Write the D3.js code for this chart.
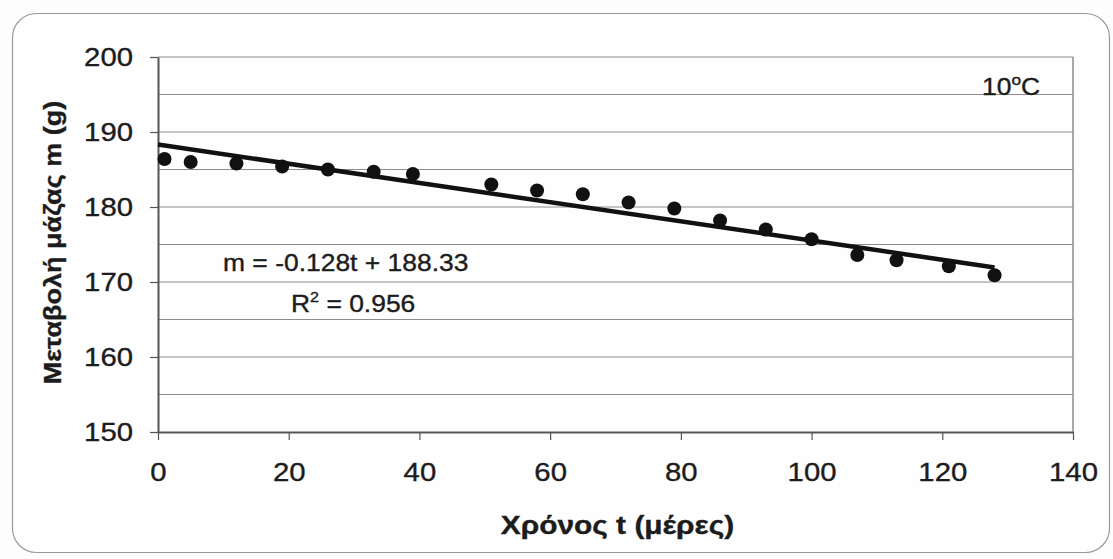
<!DOCTYPE html>
<html>
<head>
<meta charset="utf-8">
<script src="https://cdn.jsdelivr.net/npm/d3@7"></script>
<style>
  body { margin: 0; background: #fdfdfd; }
  text { font-family: "Liberation Sans", Arial, sans-serif; fill: #1c1c1c; stroke: #1c1c1c; stroke-width: 0.35px; }
</style>
</head>
<body>
<div id="svgzone"></div>
<script>
// data
let days = [1, 5, 12, 19, 26, 33, 39, 51, 58, 65, 72, 79, 86, 93, 100, 107, 113, 121, 128];
let mass = [186.4, 186.0, 185.8, 185.4, 185.0, 184.7, 184.4, 183.0, 182.2, 181.7, 180.6, 179.8, 178.2, 177.0, 175.7, 173.6, 172.9, 172.1, 170.9];
let xTicks = [0, 20, 40, 60, 80, 100, 120, 140];
let yTicks = [150, 160, 170, 180, 190, 200];
let gridValues = [155, 160, 165, 170, 175, 180, 185, 190, 195, 200];
let slope = -0.128, intercept = 188.33, rSquared = 0.956;
let fitRange = [0, 128];

let W = 1113, H = 559;
let margin = { top: 57, right: 40, bottom: 127, left: 158 },
    width = W - margin.left - margin.right,
    height = H - margin.top - margin.bottom;
let sx = 1.15; // the picture is a bit wider than tall

let root = d3.select("#svgzone")
    .append("svg")
    .attr("width", W)
    .attr("height", H);

// outer rounded frame
root.append("rect")
    .attr("x", 12.5).attr("y", 13.5)
    .attr("width", 1097).attr("height", 539)
    .attr("rx", 24)
    .attr("fill", "#fefefe")
    .attr("stroke", "#9a9a9a")
    .attr("stroke-width", 1.2);

let svg = root.append("g")
    .attr("transform", "translate(" + margin.left + "," + margin.top + ")");

let x = d3.scaleLinear().domain([0, 140]).range([0, width]);
let y = d3.scaleLinear().domain([150, 200]).range([height, 0]);

// horizontal grid lines
svg.append("g")
    .selectAll("line")
    .data(gridValues)
    .enter()
    .append("line")
    .attr("x1", 0).attr("x2", width)
    .attr("y1", d => y(d)).attr("y2", d => y(d))
    .attr("stroke", "#8c8c8c")
    .attr("stroke-width", 1.2);

// right border of plot
svg.append("line")
    .attr("x1", width).attr("x2", width)
    .attr("y1", 0).attr("y2", height)
    .attr("stroke", "#8c8c8c")
    .attr("stroke-width", 1.5);

// axes
let xAxis = svg.append("g")
    .attr("transform", "translate(0," + height + ")")
    .call(d3.axisBottom(x).tickValues(xTicks).tickSize(8).tickPadding(23).tickSizeOuter(0));
xAxis.select(".domain").attr("stroke", "#555").attr("stroke-width", 2);
xAxis.selectAll(".tick line").attr("stroke", "#555").attr("stroke-width", 1.2);
xAxis.selectAll(".tick text")
    .attr("font-size", 25.5)
    .attr("font-family", "Liberation Sans, Arial, sans-serif")
    .attr("fill", "#1c1c1c")
    .attr("transform", "scale(" + sx + ",1)");

let yAxis = svg.append("g")
    .call(d3.axisLeft(y).tickValues(yTicks).tickSize(8).tickPadding(17).tickSizeOuter(0));
yAxis.select(".domain").attr("stroke", "#555").attr("stroke-width", 2);
yAxis.selectAll(".tick line").attr("stroke", "#555").attr("stroke-width", 1.2);
yAxis.selectAll(".tick text")
    .attr("font-size", 25.5)
    .attr("font-family", "Liberation Sans, Arial, sans-serif")
    .attr("fill", "#1c1c1c")
    .attr("transform", "scale(" + sx + ",1)")
    .attr("x", -25 / sx);

// trend line
svg.append("line")
    .attr("x1", x(fitRange[0])).attr("y1", y(slope * fitRange[0] + intercept))
    .attr("x2", x(fitRange[1])).attr("y2", y(slope * fitRange[1] + intercept))
    .attr("stroke", "#111")
    .attr("stroke-width", 4.5);

// points
svg.append("g")
    .selectAll("circle")
    .data(days)
    .enter()
    .append("circle")
    .attr("cx", (d, i) => x(d))
    .attr("cy", (d, i) => y(mass[i]))
    .attr("r", 7)
    .attr("fill", "#111");

// equation
let eq = root.append("text")
    .attr("transform", "translate(223,271) scale(" + sx + ",1)")
    .attr("font-size", 23)
    .text("m = " + slope + "t + " + intercept);

let r2 = root.append("text")
    .attr("transform", "translate(291,312) scale(" + sx + ",1)")
    .attr("font-size", 23);
r2.append("tspan").text("R");
r2.append("tspan").attr("font-size", 14).attr("dy", -10).text("2");
r2.append("tspan").attr("dy", 10).text(" = " + rSquared);

// temperature label
let temp = root.append("text")
    .attr("transform", "translate(982,95) scale(" + sx + ",1)")
    .attr("font-size", 23);
temp.append("tspan").text("10");
temp.append("tspan").attr("font-size", 15).attr("dy", -10).text("o");
temp.append("tspan").attr("dy", 10).text("C");

// axis titles
root.append("text")
    .attr("transform", "translate(" + (margin.left + width / 2 + 2) + ",534) scale(" + sx + ",1)")
    .attr("text-anchor", "middle")
    .attr("font-size", 26)
    .attr("font-weight", "bold")
    .text("Χρόνος t (μέρες)");

root.append("text")
    .attr("transform", "translate(61," + (margin.top + height / 2 - 2) + ") rotate(-90) scale(" + sx + ",1)")
    .attr("text-anchor", "middle")
    .attr("font-size", 23.5)
    .attr("font-weight", "bold")
    .text("Μεταβολή μάζας m (g)");
</script>
</body>
</html>
